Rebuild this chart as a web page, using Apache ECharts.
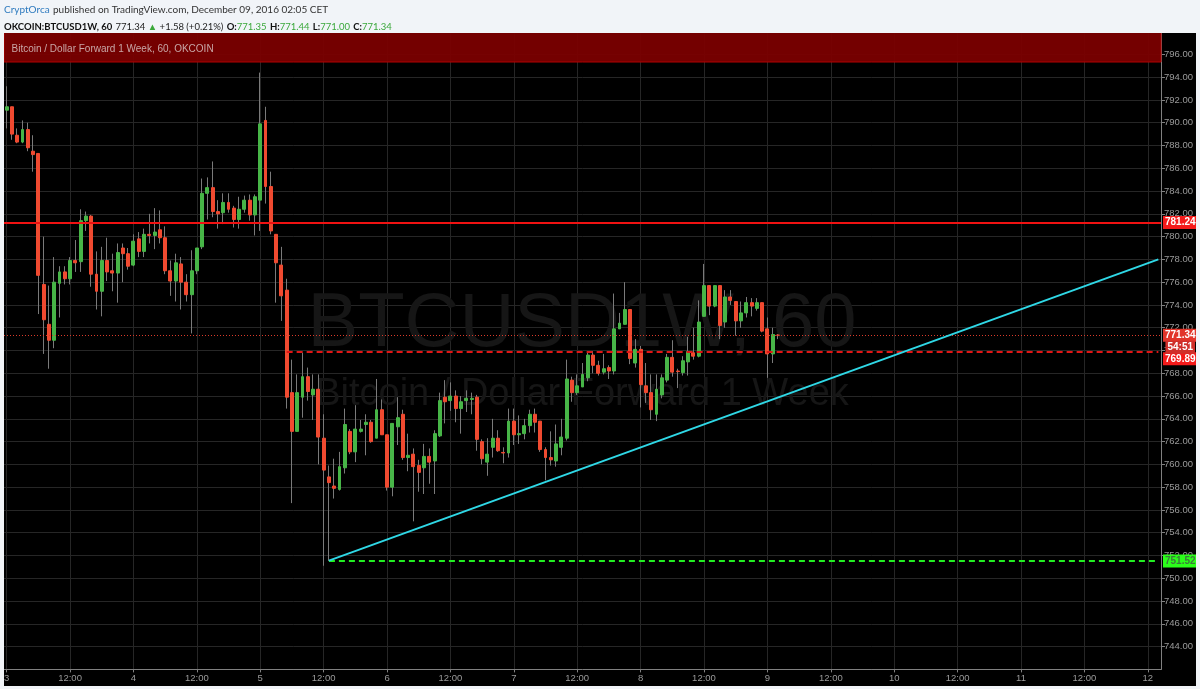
<!DOCTYPE html>
<html><head><meta charset="utf-8">
<script src="https://cdn.jsdelivr.net/npm/echarts/dist/echarts.min.js"></script>
<style>html,body{margin:0;padding:0;background:#f1f4f8}#c{width:1200px;height:689px}</style>
</head><body><div id="c"></div><script>
// ---- time axis: hourly slots starting Dec 3 00:00, labels every 12 hours
const slotCount = 219;
const tickLabels = ['3','12:00','4','12:00','5','12:00','6','12:00','7','12:00','8','12:00','9','12:00','10','12:00','11','12:00','12'];
// ---- hourly OHLC (Dec 3 00:00 -> Dec 9 02:00)
const opens = [
791.1,791.4,788.9,788.3,789.4,787.5,787.3,775.8,772.3,770.9,775.9,776.9,776.3,777.9,777.8,781.4,781.8,776.7,775.2,777.9,
777.0,776.8,779.0,778.5,777.5,779.8,778.7,780.2,780.1,780.6,779.9,777.0,776.1,777.6,776.0,774.9,777.0,779.1,783.8,784.3,
782.2,782.1,783.0,782.5,781.5,782.4,783.2,781.9,783.2,790.2,784.4,780.2,777.5,775.3,766.3,762.9,765.9,767.7,766.1,766.6,
762.3,758.9,758.1,757.8,759.7,762.9,761.1,762.9,763.5,763.7,762.3,764.8,762.6,758.0,763.3,764.4,760.6,760.9,759.9,759.7,
760.7,760.3,762.5,765.9,765.6,766.0,764.9,765.6,765.7,765.9,762.0,760.2,761.5,762.3,761.05,761.0,763.8,762.6,762.7,763.4,
764.4,763.8,761.3,760.6,760.3,761.5,762.3,767.4,766.3,766.8,767.6,769.6,768.7,768.1,768.5,768.2,771.9,772.3,773.6,768.9,
770.1,766.9,766.3,764.4,766.1,767.4,769.4,768.2,768.06,769.0,769.8,769.5,773.0,775.7,773.9,775.7,772.5,774.7,774.3,772.6,
773.3,774.2,773.7,774.2,771.9,769.7,771.35];
const closes = [
791.4,789.0,788.3,789.4,787.8,787.2,776.6,772.7,770.9,776.0,776.9,776.3,777.9,777.7,781.4,781.8,776.7,775.2,777.9,776.9,
776.8,778.6,778.5,777.4,779.6,778.7,780.2,780.1,780.4,779.9,777.0,776.1,777.7,776.0,774.9,777.0,779.0,783.8,784.3,782.2,
782.0,783.0,782.4,781.5,782.4,783.2,781.9,783.5,789.9,784.4,780.5,777.7,774.8,765.9,762.9,766.3,767.7,766.4,766.6,762.4,
759.5,758.4,757.9,759.8,763.5,761.1,763.1,763.1,763.7,762.0,764.8,762.6,758.0,763.6,764.1,760.6,760.8,759.8,759.3,760.7,
760.2,762.7,765.6,765.5,766.0,764.9,765.5,765.8,765.8,762.2,760.5,760.9,762.3,761.2,761.0,763.8,762.6,762.7,763.4,764.4,
763.7,761.3,760.6,760.4,761.8,762.4,767.5,766.3,766.9,767.9,769.6,768.7,768.0,768.4,768.2,771.9,772.4,773.6,769.3,770.1,
767.0,766.3,764.8,766.6,767.6,769.4,768.1,768.15,769.1,769.9,769.5,772.5,775.7,773.9,775.7,772.2,774.7,774.4,772.6,773.3,
774.2,773.9,774.2,771.7,769.7,771.4,771.34];
const lows = [
789.5,788.5,788.2,788.2,787.5,785.7,773.2,769.7,768.4,770.2,772.9,775.8,775.8,776.9,776.9,780.5,775.6,773.6,773.0,776.1,
775.2,774.2,776.0,777.1,777.4,778.2,778.2,779.4,778.9,779.4,776.7,774.8,774.3,773.6,774.3,771.5,776.7,778.9,781.5,781.7,
780.7,781.1,782.1,780.8,780.7,782.1,781.4,780.1,780.5,782.9,780.2,774.2,772.6,764.9,756.6,762.9,764.1,765.6,763.9,760.0,
751.1,751.52,757.0,757.7,759.2,760.9,760.2,762.8,760.8,761.9,762.3,762.6,757.7,757.2,761.7,760.4,759.4,755.0,757.6,757.4,
758.3,757.4,762.4,763.6,764.7,763.7,762.7,764.6,764.4,761.2,760.0,759.0,760.6,761.1,760.1,760.6,761.7,761.8,762.2,762.8,
762.8,761.1,758.6,759.9,759.8,760.8,762.1,765.5,766.1,766.8,767.3,768.0,767.8,767.9,767.5,767.9,771.9,772.3,768.8,768.5,
765.0,765.4,763.9,763.8,765.8,767.2,767.7,766.7,767.8,767.8,769.2,769.4,773.0,773.1,773.8,771.0,772.0,774.0,771.3,772.0,
772.9,773.0,773.5,771.6,767.6,768.9,771.0];
const highs = [
793.2,791.4,789.5,790.2,790.0,788.9,787.3,780.0,775.7,778.2,777.4,777.4,778.2,779.7,782.4,782.2,781.9,778.7,779.1,779.9,
778.5,779.4,779.4,779.0,780.2,780.4,780.7,782.0,782.5,782.3,780.9,777.9,778.5,778.2,776.7,778.8,779.0,785.1,785.2,786.6,
783.2,783.8,783.8,782.7,783.5,783.6,783.7,783.7,794.4,791.4,785.7,780.2,779.1,776.3,769.2,767.9,769.8,768.5,767.9,767.9,
764.4,759.9,760.5,761.1,764.9,763.1,765.2,763.9,764.4,763.9,767.5,765.7,762.6,763.6,765.9,764.8,762.7,761.4,760.4,761.8,
761.4,763.0,766.3,767.4,767.2,766.5,766.0,766.5,766.3,766.1,762.2,762.3,764.0,763.0,761.5,764.9,764.9,764.3,764.0,764.8,
764.9,763.8,761.5,762.9,763.5,764.0,769.2,767.7,767.9,768.9,769.95,769.95,769.1,769.7,768.7,775.0,773.3,776.0,773.6,771.0,
770.4,768.9,767.9,767.9,767.9,769.7,770.9,768.4,769.5,771.2,772.0,774.4,777.6,775.7,775.7,775.7,775.3,775.3,774.3,774.3,
774.7,774.6,774.6,774.2,772.9,772.0,771.44];
// ---- drawn levels
const levelResistance = 781.24;
const levelLast = 771.34;
const levelDashed = 769.89;
const levelSupport = 751.52;
const dashedStartSlot = 53;
const supportStartSlot = 61;
const trendStart = [61, 751.55];
const trendEnd = [218, 778.0];
const bandRange = [795.33, 798];
const countdownText = '54:51';
const yMin = 742, yMax = 798, yStep = 2;

const categories = Array.from({length: slotCount}, (_, i) => 'h' + i);
const bodyData = opens.map((o, i) => [o, closes[i], Math.min(o, closes[i]), Math.max(o, closes[i])]);
const wickData = lows.map((l, i) => [l, l, l, highs[i]]);

const FONT = 'Liberation Sans, Arial, sans-serif';
const HFONT = 'Lato, Liberation Sans, sans-serif';
const tag = (text, bg, fg) => ({
  show: true, position: 'end', distance: 2, formatter: text,
  color: fg || '#fff', backgroundColor: bg, padding: [2, 2, 1, 2],
  fontSize: 10, fontWeight: 'bold', fontFamily: FONT
});
const hidden = {color: 'rgba(0,0,0,0)', width: 0};

const chart = echarts.init(document.getElementById('c'), null, {renderer: 'canvas'});
const option = {
  backgroundColor: '#000',
  animation: false,
  grid: {left: 4, right: 39, top: 31.6, bottom: 19.6, containLabel: false},
  xAxis: {
    type: 'category', data: categories, boundaryGap: true,
    axisLine: {show: true, lineStyle: {color: '#808080', width: 1}},
    axisTick: {show: true, alignWithLabel: true, interval: 11, length: 3, lineStyle: {color: '#808080'}},
    axisLabel: {interval: 11, margin: 4, color: '#9a9a9a', fontSize: 9.5, fontFamily: FONT,
      formatter: (v, idx) => (idx % 12 === 0 ? tickLabels[idx / 12] : '')},
    splitLine: {show: true, interval: 11, alignWithLabel: true, lineStyle: {color: '#262626', width: 1}}
  },
  yAxis: {
    type: 'value', position: 'right', min: yMin, max: yMax, interval: yStep, scale: true,
    axisLine: {show: true, lineStyle: {color: '#808080'}},
    axisTick: {show: true, length: 4, lineStyle: {color: '#808080'}},
    axisLabel: {margin: 3, color: '#9a9a9a', fontSize: 9.5, fontFamily: FONT, showMinLabel: false, showMaxLabel: false,
      formatter: v => v.toFixed(2)},
    splitLine: {show: true, lineStyle: {color: '#262626', width: 1}}
  },
  series: [
    {
      name: 'wick', type: 'candlestick', data: wickData, barWidth: 1, z: 2,
      itemStyle: {color: '#7a7a7a', color0: '#7a7a7a', borderColor: '#7a7a7a', borderColor0: '#7a7a7a', borderWidth: 1},
      markArea: {
        silent: true,
        itemStyle: {color: 'rgba(125,0,0,0.93)', borderColor: '#b30000', borderWidth: 1},
        label: {show: true, position: 'insideLeft', distance: 8, offset: [0, 2], color: '#c9a6a6', fontSize: 10, fontFamily: FONT},
        data: [[{yAxis: bandRange[0], name: 'Bitcoin / Dollar Forward 1 Week, 60, OKCOIN'}, {yAxis: bandRange[1]}]]
      }
    },
    {
      name: 'body', type: 'candlestick', data: bodyData, barWidth: 3.4, z: 3,
      itemStyle: {color: '#47b547', color0: '#f04a30', borderColor: '#47b547', borderColor0: '#f04a30', borderWidth: 1},
      markLine: {
        silent: true, symbol: ['none', 'none'], animation: false,
        data: [
          {yAxis: levelResistance, lineStyle: {color: '#f01212', width: 2, type: 'solid'},
            label: tag(levelResistance.toFixed(2), '#f41a1a')},
          {yAxis: levelLast, lineStyle: {color: '#d83a2a', width: 1, type: [1, 2]},
            label: tag(levelLast.toFixed(2), '#e2352a')},
          [{coord: [dashedStartSlot, levelDashed], lineStyle: {color: '#e01515', width: 2, type: [6, 4]}, label: {show: false}},
           {coord: [slotCount - 1, levelDashed]}],
          {yAxis: levelDashed, lineStyle: hidden, label: Object.assign(tag(levelDashed.toFixed(2), '#f41a1a'), {offset: [0, 7]})},
          [{coord: [supportStartSlot, levelSupport], lineStyle: {color: '#22ee22', width: 2, type: [6, 4]}, label: {show: false}},
           {coord: [slotCount - 1, levelSupport]}],
          {yAxis: levelSupport, lineStyle: hidden, label: tag(levelSupport.toFixed(2), '#2bff1a', '#3d7a3d')},
          [{coord: trendStart, lineStyle: {color: '#2fd8e6', width: 2, type: 'solid'}, label: {show: false}},
           {coord: trendEnd}]
        ]
      }
    }
  ],
  graphic: [
    {type: 'text', id: 'wm1', z: 1, silent: true, style: {text: 'BTCUSD1W, 60', x: 582, y: 325, align: 'center', verticalAlign: 'middle',
      fill: '#161616', font: '76px ' + FONT}},
    {type: 'text', id: 'wm2', z: 1, silent: true, style: {text: 'Bitcoin / Dollar Forward 1 Week', x: 582, y: 395, align: 'center', verticalAlign: 'middle',
      fill: '#161616', font: '38px ' + FONT}},
    {type: 'rect', id: 'hdr', z: 50, silent: true, shape: {x: 0, y: 0, width: 1200, height: 33}, style: {fill: '#f1f4f8'}},
    {type: 'rect', id: 'lft', z: 50, silent: true, shape: {x: 0, y: 0, width: 4, height: 689}, style: {fill: '#f1f4f8'}},
    {type: 'rect', id: 'rgt', z: 50, silent: true, shape: {x: 1196, y: 0, width: 4, height: 689}, style: {fill: '#f1f4f8'}},
    {type: 'rect', id: 'bot', z: 50, silent: true, shape: {x: 0, y: 686, width: 1200, height: 3}, style: {fill: '#f1f4f8'}},
    {type: 'text', id: 'h1', z: 60, silent: true, style: {x: 4, y: 9.5, verticalAlign: 'middle',
      text: '{a|CryptOrca} {b|published on TradingView.com, December 09, 2016 02:05 CET}',
      rich: {a: {fill: '#2f7bbf', font: '10px ' + HFONT}, b: {fill: '#333', font: '10px ' + HFONT}}}},
    {type: 'text', id: 'h2', z: 60, silent: true, style: {x: 4, y: 27, verticalAlign: 'middle',
      text: '{k|OKCOIN:BTCUSD1W, 60} {v|771.34}{g| ▲ }{v|+1.58 (+0.21%)} {k|O:}{gv|771.35} {k|H:}{gv|771.44} {k|L:}{gv|771.00} {k|C:}{gv|771.34}',
      rich: {k: {fill: '#111', font: 'bold 9.5px ' + HFONT}, v: {fill: '#222', font: '9.5px ' + HFONT},
        g: {fill: '#3aa83a', font: '9.5px ' + HFONT}, gv: {fill: '#3aa83a', font: '9.5px ' + HFONT}}}}
  ]
};
chart.setOption(option);
const yLast = chart.convertToPixel({yAxisIndex: 0}, levelLast);
chart.setOption({graphic: [
  {type: 'text', id: 'cd', z: 10, silent: true, style: {x: 1195, y: yLast + 12, align: 'right', verticalAlign: 'middle',
    text: countdownText, fill: '#fff', font: 'bold 10px ' + FONT, backgroundColor: '#cf2f2a', padding: [2, 2, 1, 2]}}
]});
</script></body></html>
